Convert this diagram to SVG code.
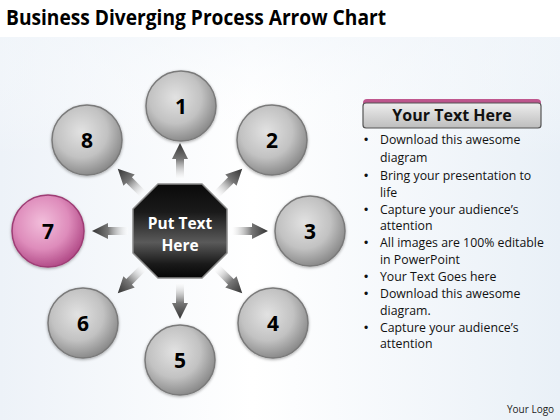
<svg xmlns="http://www.w3.org/2000/svg" width="560" height="420" viewBox="0 0 560 420">
<defs>
<style>
.num{font-family:"Open Sans","Liberation Sans",sans-serif;font-weight:bold;font-size:21px;fill:#000;text-anchor:middle}
.circ{fill:url(#gGray);stroke:#7a7a7a;stroke-width:1.5;filter:url(#sh)}
.arr{fill:url(#gArr)}
.bl{font-family:"Open Sans","Liberation Sans",sans-serif;font-size:12.3px;fill:#111}
</style>
<linearGradient id="bg" x1="0" y1="0" x2="1" y2="0">
<stop offset="0" stop-color="#edf2f8"/><stop offset="0.45" stop-color="#ffffff"/><stop offset="1" stop-color="#e9f0f7"/>
</linearGradient>
<linearGradient id="bgv" x1="0" y1="0" x2="0" y2="1">
<stop offset="0" stop-color="#f3f7fb" stop-opacity="0.6"/><stop offset="1" stop-color="#ffffff" stop-opacity="0"/>
</linearGradient>
<radialGradient id="gGray" cx="0.42" cy="0.38" r="0.62">
<stop offset="0" stop-color="#e2e2e2"/><stop offset="0.6" stop-color="#c2c2c2"/><stop offset="1" stop-color="#8c8c8c"/>
</radialGradient>
<radialGradient id="gPink" cx="0.42" cy="0.38" r="0.62">
<stop offset="0" stop-color="#f2bedb"/><stop offset="0.6" stop-color="#de8cbb"/><stop offset="1" stop-color="#b44e8a"/>
</radialGradient>
<linearGradient id="gArr" gradientUnits="userSpaceOnUse" x1="52" y1="0" x2="88" y2="0">
<stop offset="0" stop-color="#ffffff" stop-opacity="0.3"/><stop offset="0.55" stop-color="#777"/><stop offset="1" stop-color="#333"/>
</linearGradient>
<linearGradient id="gOct" x1="0" y1="0" x2="0" y2="1">
<stop offset="0" stop-color="#0a0a0a"/><stop offset="0.3" stop-color="#1a1a1a"/><stop offset="0.62" stop-color="#5a5a5a"/><stop offset="0.85" stop-color="#1a1a1a"/><stop offset="1" stop-color="#050505"/>
</linearGradient>
<linearGradient id="gHead" x1="0" y1="0" x2="0" y2="1">
<stop offset="0" stop-color="#eeeeee"/><stop offset="1" stop-color="#bdbdbd"/>
</linearGradient>
<linearGradient id="gMag" x1="0" y1="0" x2="0" y2="1">
<stop offset="0" stop-color="#c0588f"/><stop offset="1" stop-color="#8e2e66"/>
</linearGradient>
<filter id="sh" x="-20%" y="-20%" width="140%" height="140%">
<feDropShadow dx="0" dy="1" stdDeviation="1.6" flood-color="#000" flood-opacity="0.35"/>
</filter>
</defs>

<rect x="0" y="0" width="560" height="420" fill="#ffffff"/>
<rect x="0" y="37" width="560" height="383" fill="url(#bg)"/>
<rect x="0" y="37" width="560" height="120" fill="url(#bgv)"/>

<text x="6" y="25" font-family="Open Sans,Liberation Sans,sans-serif" font-weight="bold" font-size="21" textLength="380" lengthAdjust="spacingAndGlyphs" fill="#000">Business Diverging Process Arrow Chart</text>

<g id="connectors">
<g transform="translate(180,231) rotate(-90)"><path class="arr" d="M52,-4 L72,-4 L72,-8 L88,0 L72,8 L72,4 L52,4 Z"/></g>
<g transform="translate(180,231) rotate(-45)"><path class="arr" d="M52,-4 L72,-4 L72,-8 L88,0 L72,8 L72,4 L52,4 Z"/></g>
<g transform="translate(180,231) rotate(0)"><path class="arr" d="M52,-4 L72,-4 L72,-8 L88,0 L72,8 L72,4 L52,4 Z"/></g>
<g transform="translate(180,231) rotate(45)"><path class="arr" d="M52,-4 L72,-4 L72,-8 L88,0 L72,8 L72,4 L52,4 Z"/></g>
<g transform="translate(180,231) rotate(90)"><path class="arr" d="M52,-4 L72,-4 L72,-8 L88,0 L72,8 L72,4 L52,4 Z"/></g>
<g transform="translate(180,231) rotate(135)"><path class="arr" d="M52,-4 L72,-4 L72,-8 L88,0 L72,8 L72,4 L52,4 Z"/></g>
<g transform="translate(180,231) rotate(180)"><path class="arr" d="M52,-4 L72,-4 L72,-8 L88,0 L72,8 L72,4 L52,4 Z"/></g>
<g transform="translate(180,231) rotate(225)"><path class="arr" d="M52,-4 L72,-4 L72,-8 L88,0 L72,8 L72,4 L52,4 Z"/></g>
</g>

<g id="center">
<polygon points="158,184 202,184 227,209 227,253 202,278 158,278 133,253 133,209" fill="url(#gOct)" stroke="#8a8a8a" stroke-width="1.5"/>
<text x="180" y="229" font-family="Open Sans,Liberation Sans,sans-serif" font-weight="bold" font-size="15.5" fill="#fff" text-anchor="middle">Put Text</text>
<text x="180" y="251" font-family="Open Sans,Liberation Sans,sans-serif" font-weight="bold" font-size="15.5" fill="#fff" text-anchor="middle">Here</text>
</g>

<g id="n1"><circle class="circ" cx="181" cy="106" r="35"/><text class="num" x="181" y="114">1</text></g>
<g id="n2"><circle class="circ" cx="272" cy="140" r="35"/><text class="num" x="272" y="148">2</text></g>
<g id="n3"><circle class="circ" cx="310" cy="231" r="35"/><text class="num" x="310" y="239">3</text></g>
<g id="n4"><circle class="circ" cx="273" cy="323" r="35"/><text class="num" x="273" y="331">4</text></g>
<g id="n5"><circle class="circ" cx="180" cy="360" r="35"/><text class="num" x="180" y="368">5</text></g>
<g id="n6"><circle class="circ" cx="83" cy="323" r="35"/><text class="num" x="83" y="331">6</text></g>
<g id="n7"><circle cx="48" cy="231" r="36" fill="url(#gPink)" stroke="#9e3c74" stroke-width="1.5" filter="url(#sh)"/><text class="num" x="48" y="239">7</text></g>
<g id="n8"><circle class="circ" cx="87" cy="140" r="35"/><text class="num" x="87" y="148">8</text></g>

<g id="header">
<rect x="363" y="99" width="178" height="29" rx="4" fill="url(#gMag)"/>
<rect x="363" y="103" width="178" height="25" rx="3" fill="url(#gHead)" stroke="#555" stroke-width="1.2"/>
<text x="452" y="121" font-family="Open Sans,Liberation Sans,sans-serif" font-weight="bold" font-size="16" fill="#111" text-anchor="middle">Your Text Here</text>
</g>

<g id="bullets">
<g font-family="Liberation Sans,sans-serif" font-size="12" fill="#111">
<text x="364" y="144">•</text><text x="364" y="180">•</text><text x="364" y="214">•</text><text x="364" y="247">•</text><text x="364" y="281">•</text><text x="364" y="298">•</text><text x="364" y="332">•</text>
</g>
<text class="bl" x="380" y="144">Download this awesome</text>
<text class="bl" x="380" y="162">diagram</text>
<text class="bl" x="380" y="180">Bring your presentation to</text>
<text class="bl" x="380" y="197">life</text>
<text class="bl" x="380" y="214">Capture your audience’s</text>
<text class="bl" x="380" y="230">attention</text>
<text class="bl" x="380" y="247">All images are 100% editable</text>
<text class="bl" x="380" y="264">in PowerPoint</text>
<text class="bl" x="380" y="281">Your Text Goes here</text>
<text class="bl" x="380" y="298">Download this awesome</text>
<text class="bl" x="380" y="315">diagram.</text>
<text class="bl" x="380" y="332">Capture your audience’s</text>
<text class="bl" x="380" y="348">attention</text>
</g>

<text x="507" y="413" font-family="Open Sans,Liberation Sans,sans-serif" font-size="10" fill="#222">Your Logo</text>
</svg>
